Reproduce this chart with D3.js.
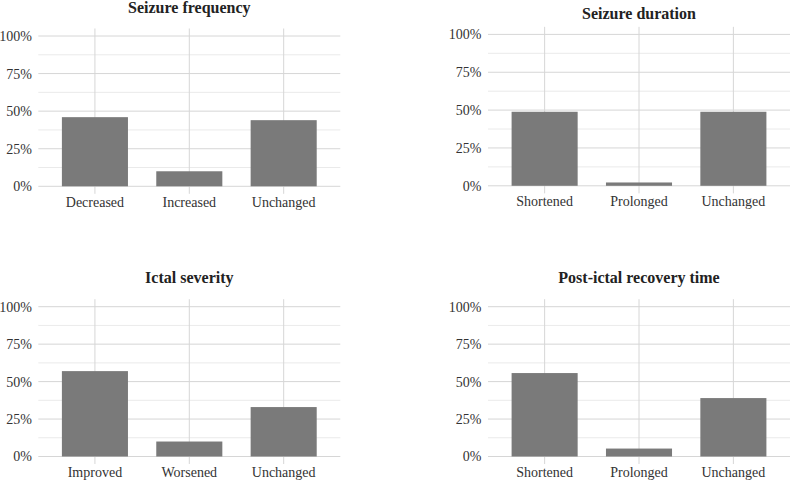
<!DOCTYPE html>
<html>
<head>
<meta charset="utf-8">
<script src="https://cdn.jsdelivr.net/npm/d3@7"></script>
<style>
  body { margin: 0; background: #fff; }
  text { font-family: "Liberation Serif", "DejaVu Serif", serif; }
</style>
</head>
<body>
<div id="chart"></div>
<script>
// data
const titles = ['Seizure frequency', 'Seizure duration', 'Ictal severity', 'Post-ictal recovery time'];
const freqCats = ['Decreased', 'Increased', 'Unchanged'];
const freqVals = [0.46, 0.10, 0.44];
const durCats = ['Shortened', 'Prolonged', 'Unchanged'];
const durVals = [0.489, 0.022, 0.489];
const sevCats = ['Improved', 'Worsened', 'Unchanged'];
const sevVals = [0.57, 0.10, 0.33];
const recCats = ['Shortened', 'Prolonged', 'Unchanged'];
const recVals = [0.557, 0.053, 0.39];
const yTicks = [0, 0.25, 0.5, 0.75, 1];
const yMinor = [0.125, 0.375, 0.625, 0.875];

const width = 790, height = 483;

// panel placement (pixel layout)
const panels = [
  {title: titles[0], cats: freqCats, vals: freqVals, x0: 38.3, x1: 340.3, yZero: 186.3, yOne: 36, titleY: 12.5},
  {title: titles[1], cats: durCats, vals: durVals, x0: 488, x1: 790, yZero: 185.8, yOne: 34.4, titleY: 19},
  {title: titles[2], cats: sevCats, vals: sevVals, x0: 38.3, x1: 340.3, yZero: 456.5, yOne: 306.7, titleY: 282.7},
  {title: titles[3], cats: recCats, vals: recVals, x0: 488, x1: 790, yZero: 456.5, yOne: 306.7, titleY: 282.7}
];

const svg = d3.select('#chart').append('svg')
  .attr('width', width)
  .attr('height', height);

panels.forEach(p => {
  const g = svg.append('g');

  const x = d3.scaleBand()
    .domain(p.cats)
    .range([p.x0, p.x1])
    .paddingInner(0.3)
    .paddingOuter(0.25);

  const y = d3.scaleLinear()
    .domain([0, 1])
    .range([p.yZero, p.yOne]);

  const top = y(1.05), bottom = y(-0.05);

  // minor grid
  g.selectAll('.minor')
    .data(yMinor)
    .join('line')
    .attr('x1', p.x0).attr('x2', p.x1)
    .attr('y1', d => y(d)).attr('y2', d => y(d))
    .attr('stroke', '#e4e4e4')
    .attr('stroke-width', 0.8);

  // major grid
  g.selectAll('.major')
    .data(yTicks)
    .join('line')
    .attr('x1', p.x0).attr('x2', p.x1)
    .attr('y1', d => y(d)).attr('y2', d => y(d))
    .attr('stroke', '#d6d6d6')
    .attr('stroke-width', 1);

  g.selectAll('.vgrid')
    .data(p.cats)
    .join('line')
    .attr('x1', d => x(d) + x.bandwidth() / 2)
    .attr('x2', d => x(d) + x.bandwidth() / 2)
    .attr('y1', top).attr('y2', bottom)
    .attr('stroke', '#d6d6d6')
    .attr('stroke-width', 1);

  // bars
  g.selectAll('rect')
    .data(p.cats.map((c, i) => ({cat: c, val: p.vals[i]})))
    .join('rect')
    .attr('x', d => x(d.cat))
    .attr('width', x.bandwidth())
    .attr('y', d => y(d.val))
    .attr('height', d => y(0) - y(d.val))
    .attr('fill', '#7a7a7a');

  // axes
  const yAxis = g.append('g')
    .attr('transform', `translate(${p.x0},0)`)
    .call(d3.axisLeft(y).tickValues(yTicks).tickFormat(d3.format('.0%')).tickSize(0).tickPadding(6.5));
  yAxis.select('.domain').remove();
  yAxis.selectAll('text')
    .attr('font-size', 14)
    .attr('font-family', '"Liberation Serif", serif')
    .attr('fill', '#333');

  const xAxis = g.append('g')
    .attr('transform', `translate(0,${bottom})`)
    .call(d3.axisBottom(x).tickSize(0).tickPadding(3));
  xAxis.select('.domain').remove();
  xAxis.selectAll('text')
    .attr('font-size', 14)
    .attr('font-family', '"Liberation Serif", serif')
    .attr('fill', '#333');

  // title
  g.append('text')
    .attr('x', (p.x0 + p.x1) / 2)
    .attr('y', p.titleY)
    .attr('text-anchor', 'middle')
    .attr('font-size', 16)
    .attr('font-weight', 'bold')
    .attr('fill', '#222')
    .text(p.title);
});
</script>
</body>
</html>
